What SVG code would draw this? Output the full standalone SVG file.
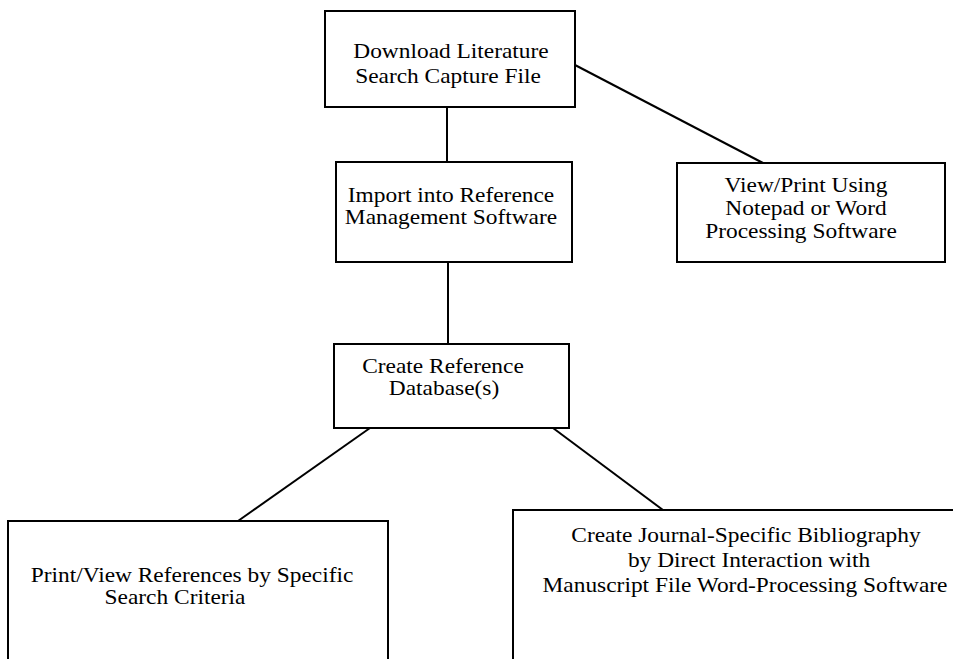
<svg xmlns="http://www.w3.org/2000/svg" width="953" height="659" viewBox="0 0 953 659">
<style>
.box{fill:#fff;stroke:#000;stroke-width:2}
.ln{stroke:#000;stroke-width:2;fill:none}
text{font-family:"Liberation Serif","Times New Roman",serif;font-size:20px;fill:#000;text-anchor:middle}
</style>
<rect width="953" height="659" fill="#fff"/>
<g id="connectors">
<line class="ln" x1="447" y1="107" x2="447" y2="162"/>
<line class="ln" x1="575" y1="65" x2="763" y2="163"/>
<line class="ln" x1="448" y1="262" x2="448" y2="344"/>
<line class="ln" x1="370" y1="428" x2="238" y2="521"/>
<line class="ln" x1="553" y1="428" x2="663" y2="510"/>
</g>
<g id="n1"><rect class="box" x="325" y="11" width="250" height="96"/>
<text transform="translate(451,58) scale(1.17,1)">Download Literature</text>
<text transform="translate(448,83) scale(1.17,1)">Search Capture File</text></g>
<g id="n2"><rect class="box" x="336" y="162" width="236" height="100"/>
<text transform="translate(451,202) scale(1.17,1)">Import into Reference</text>
<text transform="translate(451,224) scale(1.17,1)">Management Software</text></g>
<g id="n3"><rect class="box" x="677" y="163" width="268" height="99"/>
<text transform="translate(806,192) scale(1.17,1)">View/Print Using</text>
<text transform="translate(806,215) scale(1.17,1)">Notepad or Word</text>
<text transform="translate(801,238) scale(1.17,1)">Processing Software</text></g>
<g id="n4"><rect class="box" x="334" y="344" width="235" height="84"/>
<text transform="translate(443,373) scale(1.17,1)">Create Reference</text>
<text transform="translate(444,395) scale(1.17,1)">Database(s)</text></g>
<g id="n5"><rect class="box" x="8" y="521" width="380" height="160"/>
<text transform="translate(192,582) scale(1.17,1)">Print/View References by Specific</text>
<text transform="translate(175,604) scale(1.17,1)">Search Criteria</text></g>
<g id="n6"><rect class="box" x="513" y="510" width="460" height="170"/>
<text transform="translate(746,542) scale(1.17,1)">Create Journal-Specific Bibliography</text>
<text transform="translate(749,567) scale(1.17,1)">by Direct Interaction with</text>
<text transform="translate(745,592) scale(1.17,1)">Manuscript File Word-Processing Software</text></g>
</svg>
